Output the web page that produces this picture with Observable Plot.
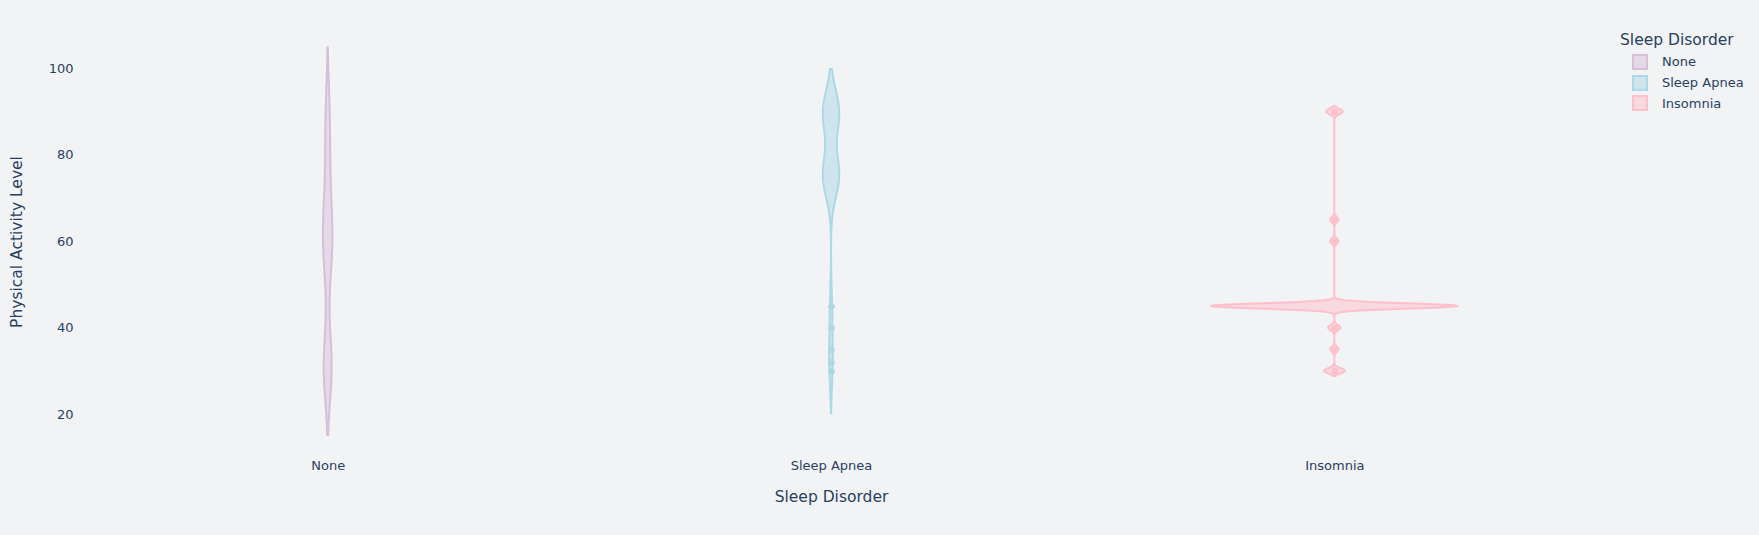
<!DOCTYPE html>
<html>
<head>
<meta charset="utf-8">
<script src="https://cdn.jsdelivr.net/npm/d3@7"></script>
<script src="https://cdn.jsdelivr.net/npm/@observablehq/plot@0.6"></script>
<style>
  html, body { margin: 0; padding: 0; background: #f1f3f5; }
  #wrap { position: relative; width: 1759px; height: 535px; font-family: "DejaVu Sans", sans-serif; color: #2a3f5f; }
  #legend { position: absolute; left: 1620px; top: 30px; }
  #legend .title { font-size: 15.5px; line-height: 20px; height: 20px; white-space: nowrap; }
  #legend .item { position: absolute; left: 12px; height: 16px; display: flex; align-items: center; white-space: nowrap; font-size: 13px; }
  #legend .sw { box-sizing: border-box; width: 16px; height: 16px; border: 2px solid; margin-right: 14px; }
</style>
</head>
<body>
<div id="wrap"></div>
<script>
// ---- data ----
const categories = ["None", "Sleep Apnea", "Insomnia"];
const activityLevels = [30, 32, 35, 40, 42, 45, 47, 50, 55, 60, 65, 70, 75, 80, 85, 90];
const countsNone       = [55, 5, 8, 0, 0, 6, 0, 4, 10, 50, 18, 5, 20, 8, 5, 25];
const countsSleepApnea = [3, 2, 2, 2, 0, 3, 0, 0, 0, 0, 0, 0, 31, 2, 2, 31];
const countsInsomnia   = [5, 0, 2, 3, 0, 59, 0, 0, 0, 2, 2, 0, 0, 0, 0, 4];
const seriesColors = ["thistle", "lightblue", "pink"];
const swatchFills = ["rgba(216,191,216,0.5)", "rgba(173,216,230,0.5)", "rgba(255,192,203,0.5)"];
const yTicks = [20, 40, 60, 80, 100];
const xTitle = "Sleep Disorder";
const yTitle = "Physical Activity Level";
const legendTitle = "Sleep Disorder";

// ---- violin statistics (Plotly-like KDE) ----
function expand(counts) {
  const out = [];
  counts.forEach((c, i) => { for (let k = 0; k < c; k++) out.push(activityLevels[i]); });
  return out;
}
function violinStats(vals) {
  const s = vals.slice().sort(d3.ascending);
  const n = s.length, min = s[0], max = s[n - 1];
  const q1 = d3.quantile(s, 0.25), q3 = d3.quantile(s, 0.75);
  const sd = d3.deviation(s);
  const bw = Math.max(1.059 * Math.min(sd, (q3 - q1) / 1.349) * Math.pow(n, -0.2), (max - min) / 100);
  const lo = min - 2 * bw, hi = max + 2 * bw;
  const steps = Math.ceil((hi - lo) / (bw / 3));
  const step = (hi - lo) / steps;
  const kde = [];
  for (let k = 0; k <= steps; k++) {
    const y = lo + k * step;
    let sum = 0;
    for (const v of s) { const u = (y - v) / bw; sum += Math.exp(-u * u / 2); }
    kde.push({y, d: sum / (n * bw * Math.sqrt(2 * Math.PI))});
  }
  const iqr = q3 - q1, lf = q1 - 1.5 * iqr, uf = q3 + 1.5 * iqr;
  const outliers = s.filter(v => v < lf || v > uf);
  return {kde, outliers};
}
const stats = [countsNone, countsSleepApnea, countsInsomnia].map(c => violinStats(expand(c)));
const maxKDE = d3.max(stats, s => d3.max(s.kde, p => p.d));
const halfWidth = 0.245;
const violinRows = stats.flatMap((s, i) => s.kde.map(p => ({
  series: categories[i], y: p.y,
  x1: i - p.d / maxKDE * halfWidth, x2: i + p.d / maxKDE * halfWidth
})));
const pointRows = stats.flatMap((s, i) => s.outliers.map(v => ({series: categories[i], i, v})));

const chart = Plot.plot({
  width: 1759, height: 535,
  marginLeft: 76, marginRight: 173, marginTop: 28, marginBottom: 80,
  style: {background: "#f1f3f5", color: "#2a3f5f", fontFamily: "DejaVu Sans", fontSize: "13px", overflow: "visible"},
  x: {domain: [-0.5, 2.5], axis: null},
  y: {domain: [10.51, 109.33], axis: null},
  color: {domain: categories, range: seriesColors},
  marks: [
    Plot.axisY(yTicks, {tickSize: 0, tickPadding: 3, label: null, fontSize: 13}),
    Plot.axisX([0, 1, 2], {tickSize: 0, tickPadding: 5, label: null, fontSize: 13, tickFormat: i => categories[i]}),
    Plot.areaX(violinRows, {y: "y", x1: "x1", x2: "x2", z: "series", fill: "series", fillOpacity: 0.5, stroke: "series", strokeWidth: 2, curve: "linear"}),
    Plot.dot(pointRows, {x: "i", y: "v", fill: "series", r: 3}),
    Plot.text([yTitle], {text: d => d, frameAnchor: "left", dx: -59, rotate: -90, fontSize: 15.5, textAnchor: "middle", lineAnchor: "middle"}),
    Plot.text([xTitle], {text: d => d, frameAnchor: "bottom", dy: 42, fontSize: 15.5, textAnchor: "middle", lineAnchor: "middle"})
  ]
});
const wrap = document.getElementById("wrap");
wrap.appendChild(chart);

// ---- legend ----
const legend = document.createElement("div");
legend.id = "legend";
const t = document.createElement("div");
t.className = "title";
t.textContent = legendTitle;
legend.appendChild(t);
const centers = [61.7, 82.5, 103.3];
categories.forEach((c, i) => {
  const it = document.createElement("div");
  it.className = "item";
  it.style.top = (centers[i] - 30 - 8) + "px";
  const sw = document.createElement("span");
  sw.className = "sw";
  sw.style.borderColor = seriesColors[i];
  sw.style.background = swatchFills[i];
  const lb = document.createElement("span");
  lb.textContent = c;
  it.appendChild(sw); it.appendChild(lb);
  legend.appendChild(it);
});
wrap.appendChild(legend);
</script>
</body>
</html>
